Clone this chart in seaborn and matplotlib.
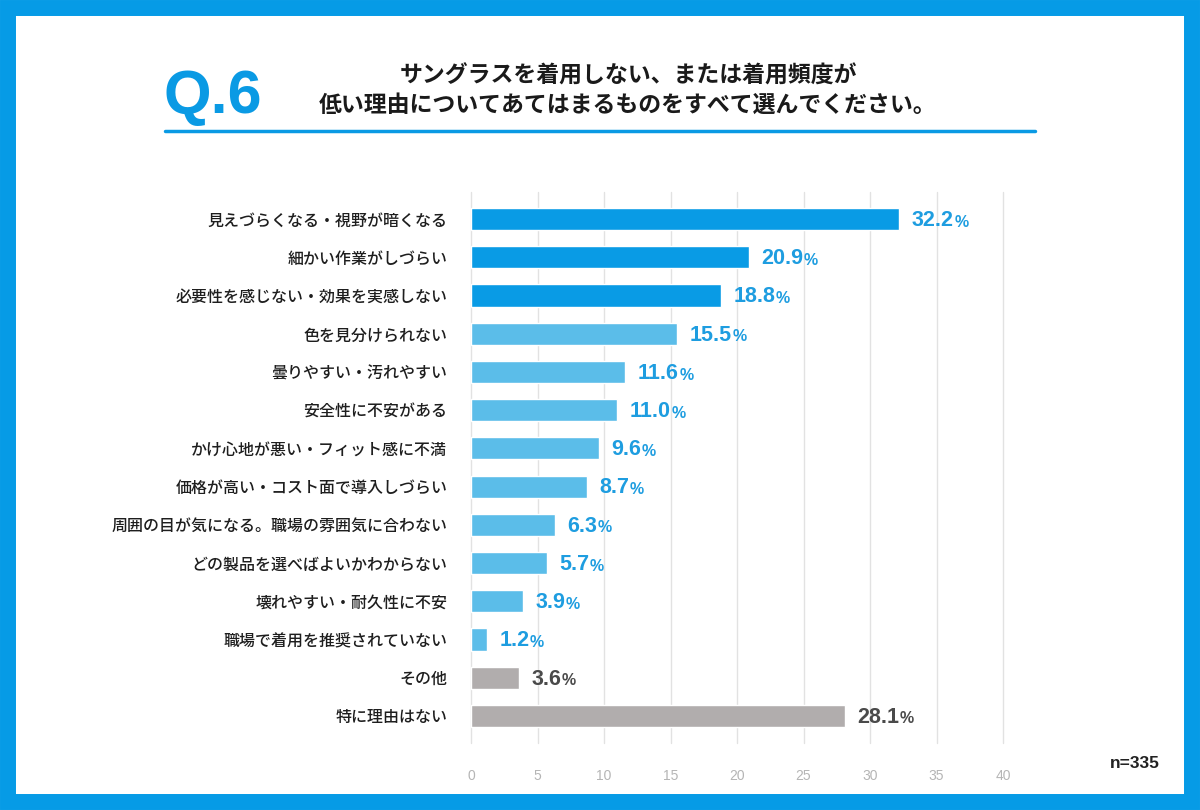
import matplotlib
matplotlib.use("Agg")
import matplotlib.pyplot as plt
import seaborn as sns
import pandas as pd
from matplotlib.patches import Rectangle
from matplotlib.lines import Line2D

categories = [
    "見えづらくなる・視野が暗くなる",
    "細かい作業がしづらい",
    "必要性を感じない・効果を実感しない",
    "色を見分けられない",
    "曇りやすい・汚れやすい",
    "安全性に不安がある",
    "かけ心地が悪い・フィット感に不満",
    "価格が高い・コスト面で導入しづらい",
    "周囲の目が気になる。職場の雰囲気に合わない",
    "どの製品を選べばよいかわからない",
    "壊れやすい・耐久性に不安",
    "職場で着用を推奨されていない",
    "その他",
    "特に理由はない",
]
values = [32.2, 20.9, 18.8, 15.5, 11.6, 11.0, 9.6, 8.7, 6.3, 5.7, 3.9, 1.2, 3.6, 28.1]
ticks = [0, 5, 10, 15, 20, 25, 30, 35, 40]

DARK = "#099be5"
LIGHT = "#5bbde9"
GRAY = "#b1adad"
colors = [DARK] * 3 + [LIGHT] * 9 + [GRAY] * 2
label_colors = ["#1e9de0"] * 12 + ["#4a4a4a"] * 2

sns.set_theme(style="white")
plt.rcParams["font.family"] = ["Noto Sans CJK JP", "DejaVu Sans"]

df = pd.DataFrame({"cat": categories, "val": values})

fig = plt.figure(figsize=(12, 8.1), dpi=100)
ax = fig.add_axes([471 / 1200, 1 - 743 / 810, 532 / 1200, 551 / 810])

sns.barplot(data=df, x="val", y="cat", hue="cat", palette=colors,
            legend=False, width=0.58, ax=ax, orient="h", saturation=1)

ax.set_xlim(0, 40)
ax.set_ylim(len(categories) - 1 + 0.71, -0.71)
ax.set_xticks(ticks)
ax.set_xticklabels([str(t) for t in ticks], color="#b5b5b5", fontsize=10,
                   family=["Liberation Sans", "DejaVu Sans"])
ax.tick_params(axis="x", length=0, pad=19)
ax.tick_params(axis="y", length=0, pad=17)
for lab in ax.get_yticklabels():
    lab.set_fontsize(11.5)
    lab.set_color("#1e1e1e")
    lab.set_fontweight("medium")
ax.set_xlabel("")
ax.set_ylabel("")
ax.xaxis.grid(True, color="#e2e2e2", linewidth=1.0)
for gl in ax.get_xgridlines():
    gl.set_clip_on(False)
ax.set_axisbelow(True)
for s in ax.spines.values():
    s.set_visible(False)

# value labels: number + smaller percent sign
num_texts = []
for i, v in enumerate(values):
    t = ax.annotate(f"{v:.1f}", xy=(v, i), xytext=(9, -1), textcoords="offset points",
                    ha="left", va="center", fontsize=15.5, fontweight="bold",
                    color=label_colors[i], family=["Liberation Sans", "DejaVu Sans"])
    num_texts.append(t)
fig.canvas.draw()
r = fig.canvas.get_renderer()
for i, t in enumerate(num_texts):
    bb = t.get_window_extent(renderer=r)
    x_fig = (bb.x1 + 0.5) / fig.bbox.width
    y_fig = (bb.y0 + bb.height * 0.42) / fig.bbox.height
    fig.text(x_fig, y_fig, "%", ha="left", va="center", fontsize=11.5, fontweight="bold",
             color=label_colors[i], family=["Liberation Sans", "DejaVu Sans"])

# header
fig.text(163 / 1200, 1 - 97 / 810, "Q.6", fontsize=44, fontweight="bold", color="#0a9ae4",
         ha="left", va="center", family=["Liberation Sans", "DejaVu Sans"])
fig.text(628 / 1200, 1 - 76 / 810, "サングラスを着用しない、または着用頻度が", fontsize=16.5,
         fontweight="bold", color="#1a1a1a", ha="center", va="center")
fig.text(628 / 1200, 1 - 105 / 810, "低い理由についてあてはまるものをすべて選んでください。",
         fontsize=16.5, fontweight="bold", color="#1a1a1a", ha="center", va="center")
fig.add_artist(Line2D([165 / 1200, 1035 / 1200], [1 - 131 / 810, 1 - 131 / 810],
                      color="#0a9ae4", linewidth=2.5))

fig.text(1160 / 1200, 1 - 763 / 810, "n=335", fontsize=12.5, fontweight="bold", color="#222222",
         ha="right", va="center", family=["Liberation Sans", "DejaVu Sans"])

# blue frame
fig.add_artist(Rectangle((8 / 1200, 8 / 810), 1 - 16 / 1200, 1 - 16 / 810, fill=False,
                         edgecolor="#069be6", linewidth=11.5, transform=fig.transFigure))

fig.savefig("out.png", dpi=100)
